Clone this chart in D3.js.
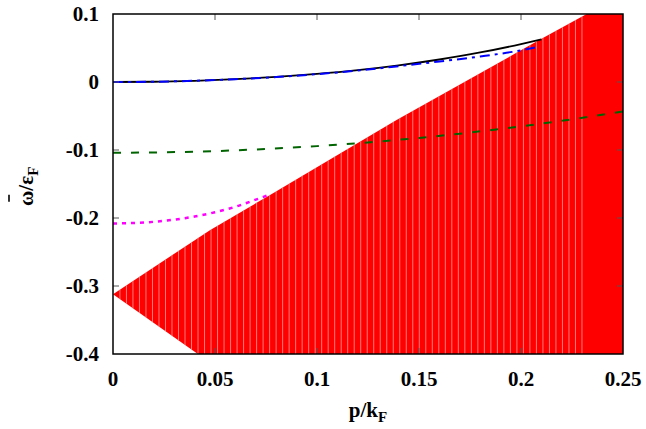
<!DOCTYPE html>
<html><head><meta charset="utf-8">
<script src="https://cdn.jsdelivr.net/npm/d3@7"></script>
<style>body{margin:0;background:#fff}svg{display:block}</style>
</head><body>
<svg id="c" width="646" height="429"></svg>
<script>
// ---- data ----
const xTicks = [0, 0.05, 0.1, 0.15, 0.2, 0.25];
const xTickLabels = ["0", "0.05", "0.1", "0.15", "0.2", "0.25"];
const yTicks = [0.1, 0, -0.1, -0.2, -0.3, -0.4];
const yTickLabels = ["0.1", "0", "-0.1", "-0.2", "-0.3", "-0.4"];

const blackX = [0, 0.02, 0.04, 0.06, 0.08, 0.1, 0.12, 0.14, 0.16, 0.18, 0.2, 0.21];
const blackY = [0, 0.0004, 0.0018, 0.0041, 0.0074, 0.0118, 0.0174, 0.0245, 0.0331, 0.0434, 0.0558, 0.0628];
const blueX = [0, 0.02, 0.04, 0.06, 0.08, 0.1, 0.12, 0.14, 0.16, 0.18, 0.2, 0.209];
const blueY = [0, 0.0004, 0.0018, 0.0041, 0.0073, 0.0116, 0.0168, 0.0233, 0.0302, 0.0375, 0.0465, 0.052];
const greenX = [0, 0.025, 0.05, 0.075, 0.1, 0.125, 0.15, 0.175, 0.2, 0.225, 0.25];
const greenY = [-0.104, -0.1034, -0.1016, -0.0985, -0.0943, -0.0888, -0.0822, -0.0743, -0.0652, -0.0549, -0.0434];
const magentaX = [0, 0.01, 0.02, 0.03, 0.04, 0.05, 0.06, 0.07, 0.077];
const magentaY = [-0.208, -0.2074, -0.2056, -0.2025, -0.1978, -0.1915, -0.1835, -0.173, -0.1655];

// red continuum region boundaries
const upperX = [0, 0.0475, 0.077, 0.139, 0.2096, 0.2322, 0.25];
const upperY = [-0.312, -0.218, -0.166, -0.056, 0.0628, 0.1, 0.1];
const lowerX = [0, 0.0416, 0.25];
const lowerY = [-0.312, -0.4, -0.4];

// ---- layout ----
const svg = d3.select("#c");
const L = 113, R = 623, T = 14, B = 354;
const x = d3.scaleLinear().domain([0, 0.25]).range([L, R]);
const y = d3.scaleLinear().domain([-0.4, 0.1]).range([B, T]);

const defs = svg.append("defs");
const regionPts = upperX.map((v, i) => [v, upperY[i]])
  .concat(lowerX.map((v, i) => [v, lowerY[i]]).reverse());
const polyPath = d3.line().x(d => x(d[0])).y(d => y(d[1]));
defs.append("clipPath").attr("id", "reg").append("path").attr("d", polyPath(regionPts) + "Z");
defs.append("clipPath").attr("id", "plot").append("rect")
  .attr("x", L).attr("y", T).attr("width", R - L).attr("height", B - T);

// red area
svg.append("path").attr("d", polyPath(regionPts) + "Z").attr("fill", "#ff0000");
// light rendering seams inside the sloped part
const stripes = d3.range(0.0034, upperX[5], 0.00319);
svg.append("g").attr("clip-path", "url(#reg)")
  .selectAll("line").data(stripes).join("line")
  .attr("x1", d => x(d)).attr("x2", d => x(d))
  .attr("y1", T).attr("y2", B)
  .attr("stroke", "#ff9a9a").attr("stroke-width", 0.8);

const line = d3.line().x(d => x(d[0])).y(d => y(d[1])).curve(d3.curveMonotoneX);
const zip = (a, b) => a.map((v, i) => [v, b[i]]);
const g = svg.append("g").attr("clip-path", "url(#plot)").attr("fill", "none");
g.append("path").attr("d", line(zip(greenX, greenY)))
  .attr("stroke", "#006400").attr("stroke-width", 2).attr("stroke-dasharray", "8,10");
g.append("path").attr("d", line(zip(magentaX, magentaY)))
  .attr("stroke", "#ff00ff").attr("stroke-width", 2.5).attr("stroke-dasharray", "4,5");
g.append("path").attr("d", line(zip(blackX, blackY)))
  .attr("stroke", "#000").attr("stroke-width", 1.8);
g.append("path").attr("d", line(zip(blueX, blueY)))
  .attr("stroke", "#0000ff").attr("stroke-width", 2).attr("stroke-dasharray", "10,5,3,5");

// ticks (inward, mirrored)
const tk = svg.append("g").attr("stroke", "#555").attr("stroke-width", 1);
xTicks.slice(1, -1).forEach(v => {
  tk.append("line").attr("x1", x(v)).attr("x2", x(v)).attr("y1", B).attr("y2", B - 6);
  tk.append("line").attr("x1", x(v)).attr("x2", x(v)).attr("y1", T).attr("y2", T + 6);
});
yTicks.slice(1, -1).forEach(v => {
  tk.append("line").attr("x1", L).attr("x2", L + 6).attr("y1", y(v)).attr("y2", y(v));
  tk.append("line").attr("x1", R).attr("x2", R - 6).attr("y1", y(v)).attr("y2", y(v));
});

// frame
svg.append("rect").attr("x", L).attr("y", T).attr("width", R - L).attr("height", B - T)
  .attr("fill", "none").attr("stroke", "#000").attr("stroke-width", 1.5);

const font = "'Liberation Serif','Times New Roman',serif";
svg.append("g").selectAll("text").data(xTicks).join("text")
  .attr("x", d => x(d)).attr("y", 386).attr("text-anchor", "middle")
  .attr("font-family", font).attr("font-weight", "bold").attr("font-size", 21)
  .text((d, i) => xTickLabels[i]);
svg.append("g").selectAll("text").data(yTicks).join("text")
  .attr("x", 99).attr("y", d => y(d) + 7).attr("text-anchor", "end")
  .attr("font-family", font).attr("font-weight", "bold").attr("font-size", 21)
  .text((d, i) => yTickLabels[i]);

// axis titles
const xt = svg.append("text").attr("x", 368).attr("y", 417).attr("text-anchor", "middle")
  .attr("font-family", font).attr("font-weight", "bold").attr("font-size", 21);
xt.append("tspan").text("p/k");
xt.append("tspan").attr("dy", 5).attr("font-size", 15).text("F");

const yg = svg.append("g").attr("transform", "translate(33,206) rotate(-90)");
const yt = yg.append("text").attr("text-anchor", "start")
  .attr("font-family", font).attr("font-weight", "bold").attr("font-size", 21);
yt.append("tspan").text("\u03C9/\u03B5");
yt.append("tspan").attr("dy", 5).attr("font-size", 15).text("F");
const ext = yt.node().getExtentOfChar(0);
const cx = ext.x + ext.width / 2;
yg.append("line").attr("x1", cx - 3.5).attr("x2", cx + 3.5).attr("y1", -24).attr("y2", -24)
  .attr("stroke", "#000").attr("stroke-width", 1.6);
</script>
</body></html>
